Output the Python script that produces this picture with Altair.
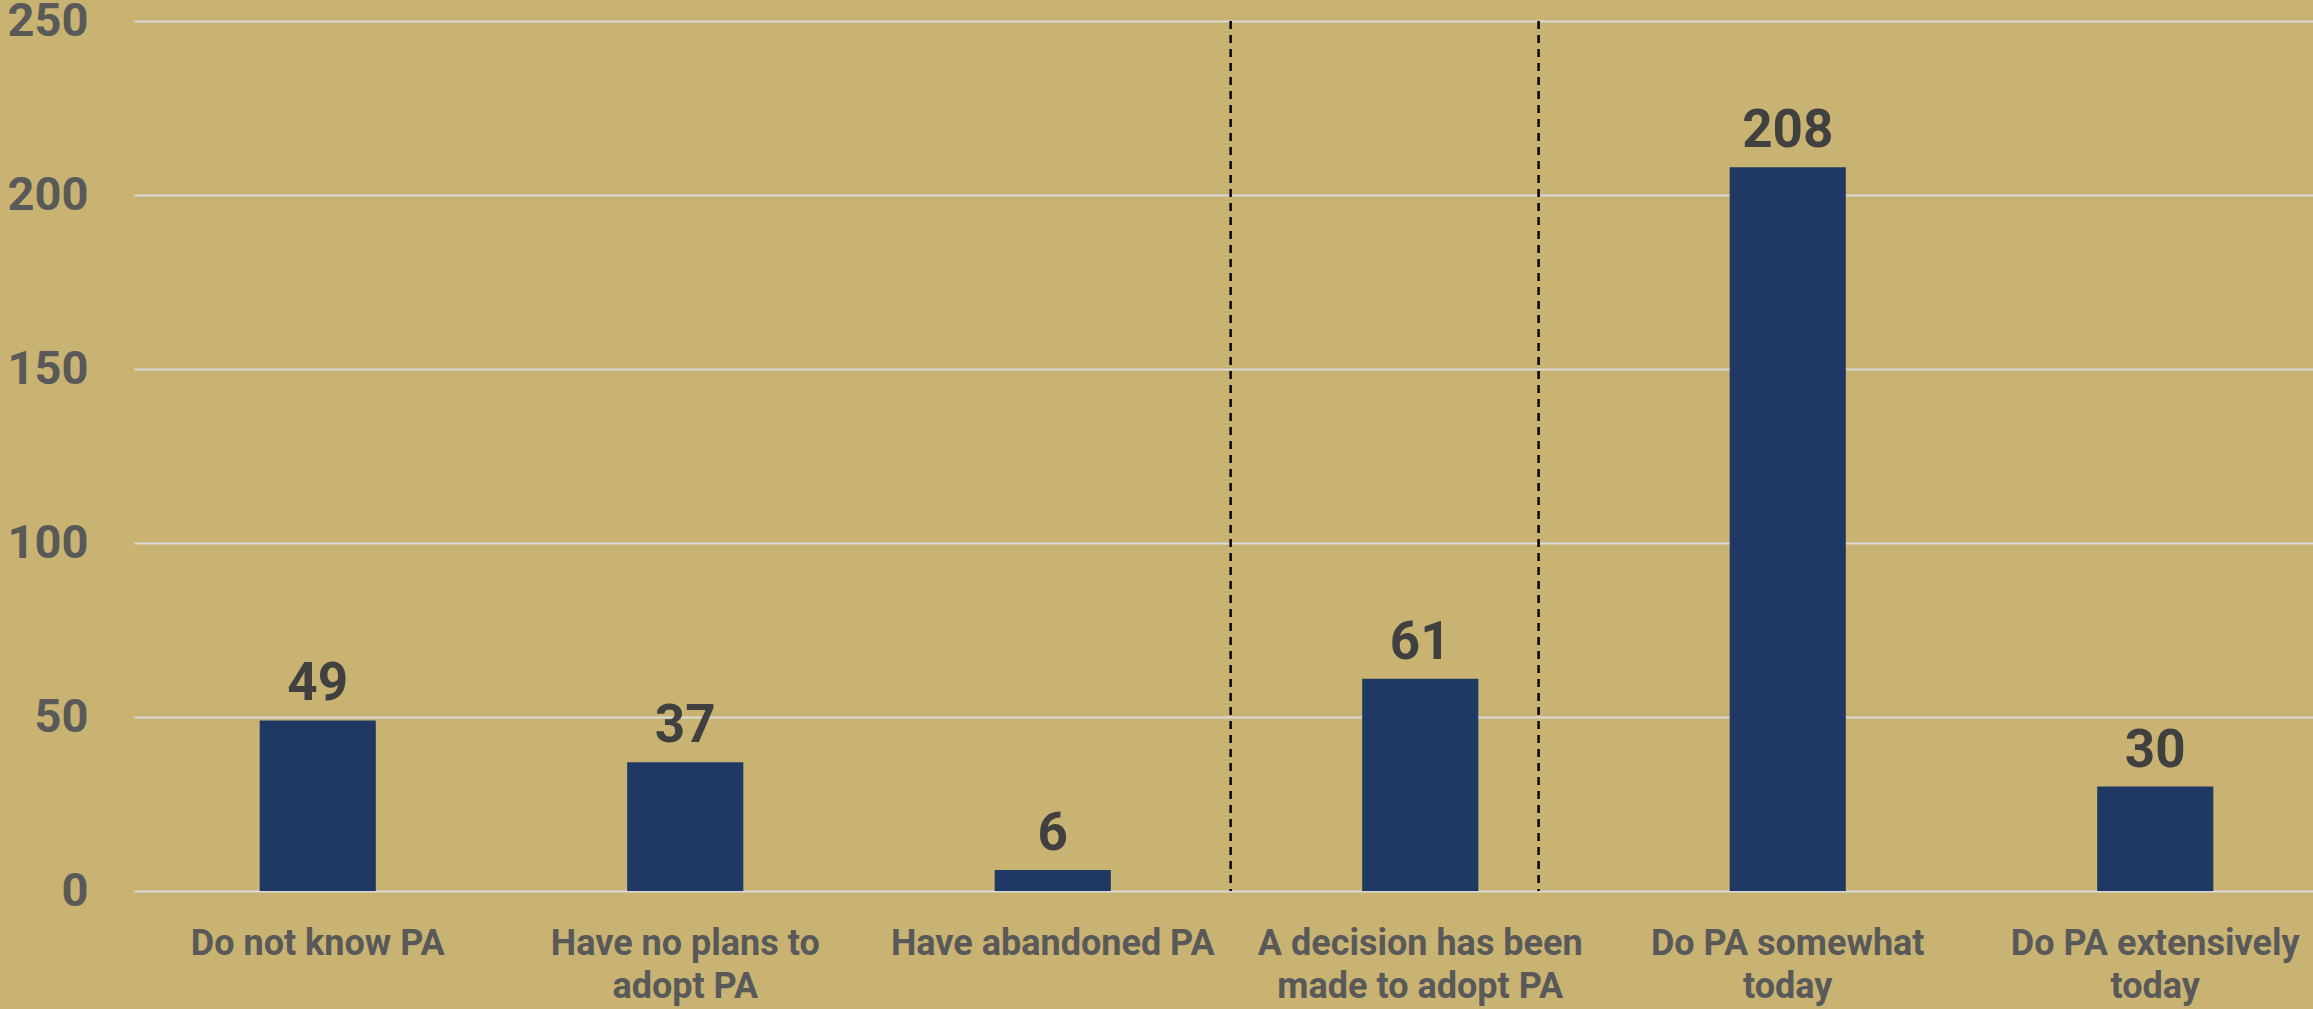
import altair as alt
import pandas as pd

categories = [
    "Do not know PA",
    "Have no plans to|adopt PA",
    "Have abandoned PA",
    "A decision has been|made to adopt PA",
    "Do PA somewhat|today",
    "Do PA extensively|today",
]
values = [49, 37, 6, 61, 208, 30]
y_ticks = [0, 50, 100, 150, 200, 250]
# dashed divider positions, in category-slot units (0 = left edge of first slot)
divider_positions = [2.984, 3.822]

df = pd.DataFrame({"category": categories, "value": values})
div_df = pd.DataFrame({"pos": divider_positions})

BG = "#C8B372"
FONT = "Roboto"
RANGE = [0, 2205]

xscale = alt.Scale(domain=categories, range=RANGE,
                   paddingInner=0.684, paddingOuter=0.342)

x_main = alt.X(
    "category:N", sort=categories, scale=xscale, title=None,
    axis=alt.Axis(
        labelExpr="split(datum.label, '|')", labelAngle=0, labelFont=FONT,
        labelFontWeight="bold", labelFontSize=36, labelColor="#595959",
        labelPadding=35, labelLineHeight=43, domain=False, ticks=False,
        labelBaseline="top", grid=False, labelLimit=0, labelOverlap=False,
    ),
)

y_main = alt.Y(
    "value:Q", scale=alt.Scale(domain=[0, 250], nice=False), title=None,
    axis=alt.Axis(
        values=y_ticks, labelFont=FONT, labelFontWeight="bold", labelFontSize=47,
        labelColor="#595959", labelPadding=46, domain=False, ticks=False,
        grid=True, gridColor="#D9D9D9", gridWidth=2,
    ),
)

bars = alt.Chart(df).mark_bar(color="#203864").encode(x=x_main, y=y_main)

text = alt.Chart(df).mark_text(
    dy=-20, baseline="alphabetic", fontSize=53, font=FONT,
    fontWeight="bold", color="#404040",
).encode(
    x=alt.X("category:N", sort=categories),
    y=alt.Y("value:Q"),
    text=alt.Text("value:Q"),
)

base = alt.layer(bars, text)

rules = alt.Chart(div_df).mark_rule(
    color="black", strokeDash=[8, 6], strokeWidth=2.5
).encode(
    x=alt.X("pos:Q", scale=alt.Scale(domain=[0, 6], range=RANGE, nice=False,
                                     zero=False), axis=None, title=None)
)

chart = alt.layer(base, rules).resolve_scale(x="independent").properties(
    width=2179, height=870,
    padding={"left": 134, "top": 21, "right": 0, "bottom": 118},
    autosize=alt.AutoSizeParams(type="none"),
    background=BG,
).configure_view(stroke=None)

chart.save("out.html", embed_options={"renderer": "svg", "actions": False})
